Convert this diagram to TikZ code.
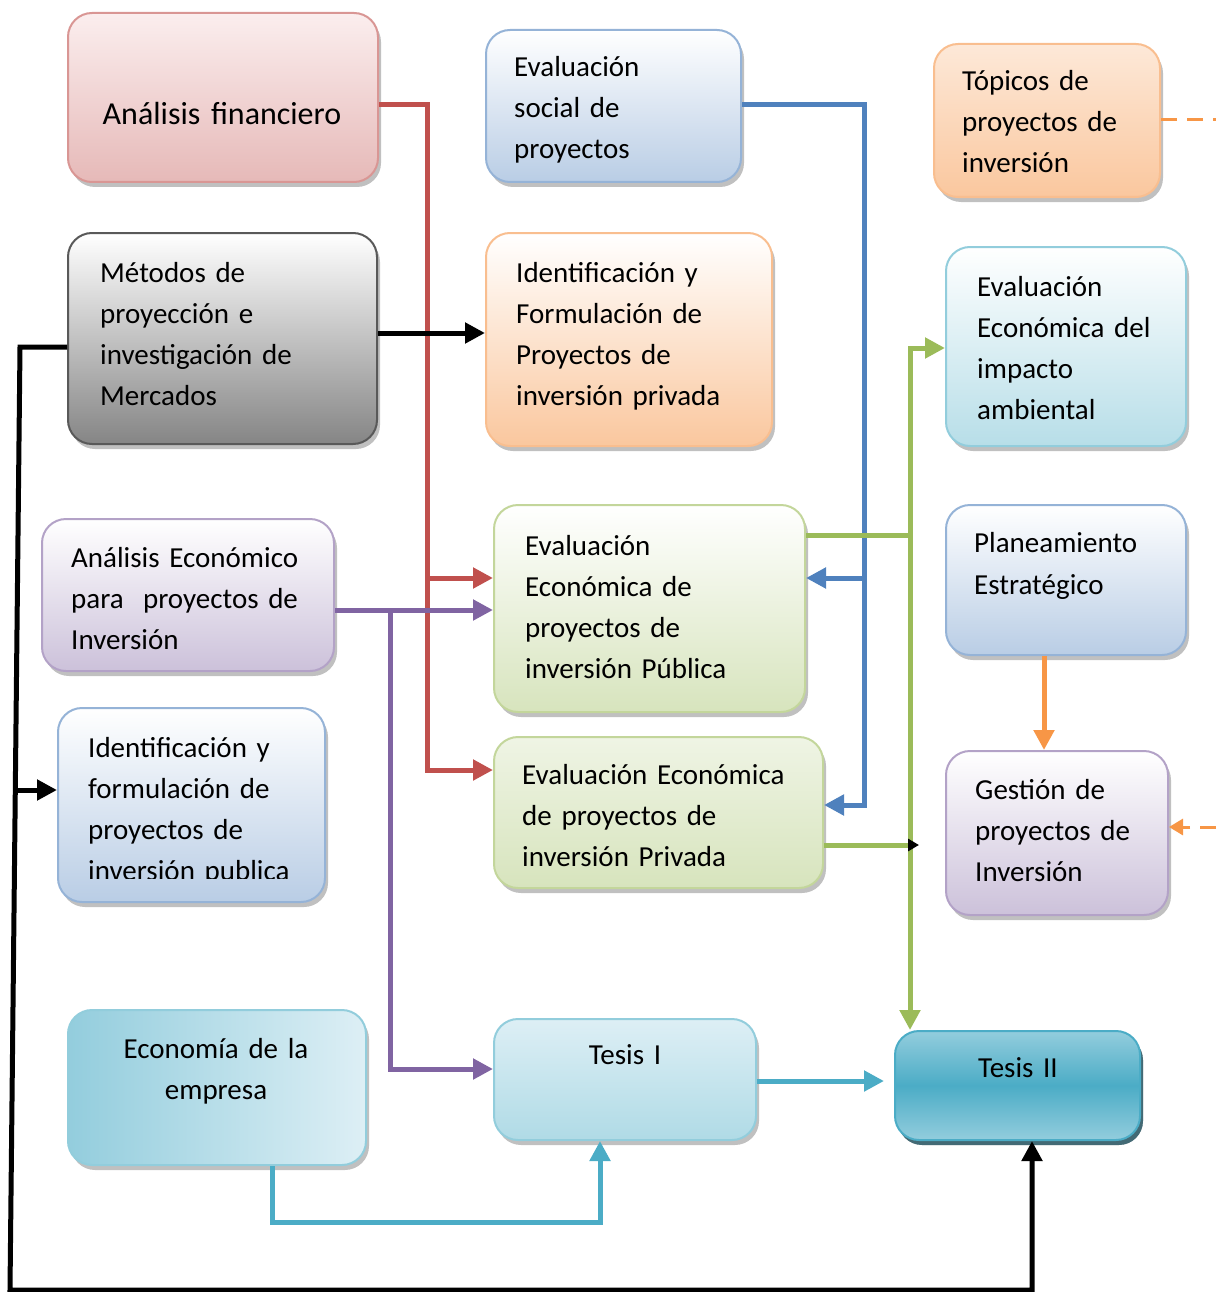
\documentclass[tikz,border=0pt]{standalone}
\usepackage{fontspec}
\setmainfont{Carlito}
\usetikzlibrary{arrows.meta,shadows,calc}
\definecolor{redB}{HTML}{D99694}\definecolor{redT}{HTML}{FBEEEE}\definecolor{redBot}{HTML}{E6B9B8}
\definecolor{bluB}{HTML}{95B3D7}\definecolor{bluBot}{HTML}{B9CDE5}
\definecolor{orgB}{HTML}{F9BE8F}\definecolor{orgBot}{HTML}{FAC79E}
\definecolor{gryB}{HTML}{595959}\definecolor{gryBot}{HTML}{858585}
\definecolor{aqB}{HTML}{92CDDC}\definecolor{aqBot}{HTML}{B7DEE8}
\definecolor{purB}{HTML}{B3A2C7}\definecolor{purBot}{HTML}{CCC1DA}
\definecolor{grnB}{HTML}{C3D69B}\definecolor{grnBot}{HTML}{D7E4BD}
\definecolor{tDark}{HTML}{4BACC6}\definecolor{tLight}{HTML}{93CDDD}\definecolor{tLL}{HTML}{DDEFF5}
\definecolor{cRed}{HTML}{C0504D}\definecolor{cBlue}{HTML}{4F81BD}\definecolor{cPur}{HTML}{8064A2}
\definecolor{cGrn}{HTML}{9BBB59}\definecolor{cOrg}{HTML}{F79646}\definecolor{cAq}{HTML}{4BACC6}
\tikzset{
  box/.style={rectangle, rounded corners=24pt, line width=2pt, inner sep=0pt,
    drop shadow={shadow xshift=3pt, shadow yshift=-5pt, fill=black!55, opacity=.45}},
  txt/.style={font=\fontsize{29}{41}\selectfont, anchor=base west, text width=320pt, align=left, inner sep=0pt},
  ctxt/.style={font=\fontsize{29}{41}\selectfont, anchor=base, text width=280pt, align=center, inner sep=0pt},
  conn/.style={line width=5pt},
  arr/.style={-{Triangle[length=20pt,width=20pt]}},
  dsh/.style={line width=3pt, dash pattern=on 16pt off 10pt},
}
\begin{document}
\begin{tikzpicture}[x=1pt,y=-1pt]
\useasboundingbox (0,0) rectangle (1216,1292);
% boxes
\node[box, draw=redB, top color=redT, bottom color=redBot, minimum width=310pt, minimum height=169pt] (af) at (223,97.5) {};
\node[box, draw=bluB, top color=white, bottom color=bluBot, minimum width=255pt, minimum height=152pt] (es) at (613.5,106) {};
\node[box, draw=orgB, top color=white!60!orgBot, bottom color=orgBot, minimum width=226pt, minimum height=153pt] (tp) at (1047,120.5) {};
\node[box, draw=gryB, top color=white, bottom color=gryBot, minimum width=309pt, minimum height=211pt] (mp) at (222.5,338.5) {};
\node[box, draw=orgB, top color=white, bottom color=orgBot, minimum width=286pt, minimum height=213pt] (ip) at (629,339.5) {};
\node[box, draw=aqB, top color=white, bottom color=aqBot, minimum width=240pt, minimum height=199pt] (ea) at (1066,346.5) {};
\node[box, draw=purB, top color=white, bottom color=purBot, minimum width=292pt, minimum height=152pt] (ae) at (188,595) {};
\node[box, draw=grnB, top color=white, bottom color=grnBot, minimum width=311pt, minimum height=207pt] (eu) at (649.5,608.5) {};
\node[box, draw=bluB, top color=white, bottom color=bluBot, minimum width=240pt, minimum height=150pt] (pe) at (1066,580) {};
\node[box, draw=bluB, top color=white, bottom color=bluBot, minimum width=267pt, minimum height=194pt] (iu) at (191.5,805) {};
\node[box, draw=grnB, top color=white!60!grnBot, bottom color=grnBot, minimum width=329pt, minimum height=151pt] (ev) at (658.5,812.5) {};
\node[box, draw=purB, top color=white, bottom color=purBot, minimum width=222pt, minimum height=164pt] (gp) at (1057,833) {};
\node[box, draw=aqB, left color=tLight, right color=tLL, minimum width=298pt, minimum height=155pt] (ee) at (217,1087.5) {};
\node[box, draw=aqB, top color=tLL, bottom color=aqBot!80!tLight, minimum width=262pt, minimum height=121pt] (t1) at (625,1079.5) {};
\node[box, draw=tDark, top color=tLight, bottom color=tLight, middle color=tDark, minimum width=245pt, minimum height=109pt,
  drop shadow={shadow xshift=3pt, shadow yshift=-5pt, fill=tDark!50!black, opacity=.8}] (t2) at (1017.5,1085.5) {};
% texts
\node[ctxt, font=\fontsize{32}{41}\selectfont] (af-t) at (222,125) {Análisis financiero};
\node[txt] (es-t) at (514,77) {Evaluación\\social de\\proyectos};
\node[txt] (tp-t) at (962,91) {Tópicos de\\proyectos de\\inversión};
\node[txt] (mp-t) at (100,282) {Métodos de\\proyección e\\investigación de\\Mercados};
\node[txt] (ip-t) at (516,282) {Identificación y\\Formulación de\\Proyectos de\\inversión privada};
\node[txt] (ea-t) at (977,296) {Evaluación\\Económica del\\impacto\\ambiental};
\node[txt] (ae-t) at (71,567) {Análisis Económico\\para\ \ proyectos de\\Inversión};
\node[txt] (eu-t) at (525,555) {Evaluación\\Económica de\\proyectos de\\inversión Pública};
\node[txt, font=\fontsize{29}{42}\selectfont] (pe-t) at (974,552) {Planeamiento\\Estratégico};
\begin{scope}
\clip (50,700) rectangle (340,878);
\node[txt] (iu-t) at (88,757) {Identificación y\\formulación de\\proyectos de\\inversión publica};
\end{scope}
\node[txt] (ev-t) at (522,784) {Evaluación Económica\\de proyectos de\\inversión Privada};
\node[txt] (gp-t) at (975,799) {Gestión de\\proyectos de\\Inversión};
\node[ctxt] (ee-t) at (216,1058) {Economía de la\\empresa};
\node[ctxt] (t1-t) at (625,1064) {Tesis I};
\node[ctxt] (t2-t) at (1018,1077) {Tesis II};
% red connectors
\draw[conn, cRed, arr] ([yshift=-7.5pt]af.east) -| (427,770) -- (ev.west |- 0,770);
\draw[conn, cRed, arr] (427,578) -- (eu.west |- 0,578);
% blue connectors
\draw[conn, cBlue, arr] (es.east |- 0,105) -| (864,805) -- (ev.east |- 0,805);
\draw[conn, cBlue, arr] (864,578) -- (eu.east |- 0,578);
% black connectors
\draw[conn, black, arr] (mp.east |- 0,333) -- (ip.west |- 0,333);
\draw[conn, black, arr] (mp.west |- 0,347) -- (20,347) -- (10,1290) -- (1032,1290) -- (1032,0 |- t2.south);
\draw[conn, black, arr] (15.3,790) -- (iu.west |- 0,790);
% purple connectors
\draw[conn, cPur, arr] (ae.east |- 0,610) -- (eu.west |- 0,610);
\draw[conn, cPur, arr] (390,610) |- (t1.west |- 0,1069);
% green connectors
\draw[conn, cGrn] (eu.east |- 0,535) -- (910,535);
\draw[conn, cGrn, {Triangle[length=20pt,width=20pt]}-{Triangle[length=20pt,width=20pt]}] (ea.west |- 0,348) -- (910,348) -- (910,0 |- t2.north);
\draw[conn, cGrn, -{Triangle[length=11pt,width=12pt,color=black]}] (ev.east |- 0,845) -- (919,845);
% orange connectors
\draw[conn, cOrg, arr] (1044,0 |- pe.south) -- (1044,0 |- gp.north);
\draw[dsh, cOrg] (tp.east |- 0,120) -- (1216,120);
\draw[dsh, cOrg, -{Triangle[length=14pt,width=16pt]}] (1216,827) -- (gp.east |- 0,827);
% aqua connectors
\draw[conn, cAq, arr] (t1.east |- 0,1081) -- ([xshift=-10pt]t2.west |- 0,1081);
\draw[conn, cAq, arr] (272,0 |- ee.south) -- (272,1222) -| (600,0 |- t1.south);
\end{tikzpicture}
\end{document}
